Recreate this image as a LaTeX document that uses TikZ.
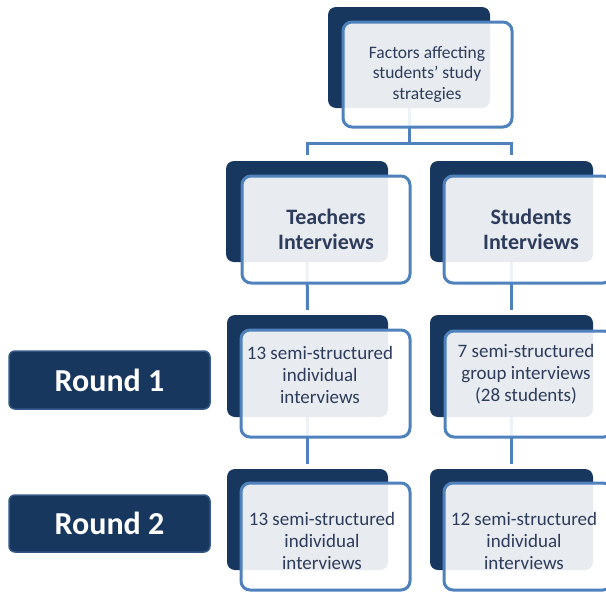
\documentclass[tikz,border=0pt]{standalone}
\usepackage{fontspec}
\setmainfont{Carlito}
\definecolor{navy}{RGB}{23,55,94}
\definecolor{accent}{RGB}{79,129,189}
\definecolor{txt}{RGB}{45,60,92}
\definecolor{roundborder}{RGB}{52,88,135}
\begin{document}
\begin{tikzpicture}[x=1pt,y=-1pt,
  darkbox/.style={fill=navy, draw=none, rounded corners=8pt, inner sep=0pt},
  lightbox/.style={fill=white, fill opacity=0.9, draw=accent, draw opacity=1, line width=3pt, rounded corners=9pt, inner sep=0pt},
  conn/.style={draw=accent, line width=3pt},
  toptext/.style={text=txt, align=center, font=\fontsize{17.5}{20.5}\selectfont},
  headtext/.style={text=txt, align=center, font=\fontsize{22}{25}\selectfont\bfseries},
  bodytext/.style={text=txt, align=center, font=\fontsize{19}{22}\selectfont},
  roundbox/.style={fill=navy, draw=roundborder, line width=1.5pt, rounded corners=6pt, text=white, font=\fontsize{32}{36}\selectfont\bfseries, inner sep=0pt}
]
\useasboundingbox (0,0) rectangle (606,592);
\clip (0,0) rectangle (606,592);

% dark boxes
\node[darkbox, minimum width=162pt, minimum height=101pt] (d1) at (409,57.5) {};
\node[darkbox, minimum width=162pt, minimum height=101pt] (dT2) at (307,211.5) {};
\node[darkbox, minimum width=163pt, minimum height=101pt] (dS2) at (511.5,211.5) {};
\node[darkbox, minimum width=161pt, minimum height=102pt] (dT3) at (307.5,366) {};
\node[darkbox, minimum width=163pt, minimum height=102pt] (dS3) at (511.5,366) {};
\node[darkbox, minimum width=161pt, minimum height=101pt] (dT4) at (307.5,519.5) {};
\node[darkbox, minimum width=163pt, minimum height=101pt] (dS4) at (511.5,519.5) {};

% connectors
\draw[conn] (d1.south) -- ++(0,35.5) coordinate (j1);
\draw[conn] (j1) -| ([yshift=6pt]dT2.north);
\draw[conn] (j1) -| ([yshift=6pt]dS2.north);
\draw[conn] (dT2.south) -- ([yshift=5pt]dT3.north);
\draw[conn] (dS2.south) -- ([yshift=5pt]dS3.north);
\draw[conn] (dT3.south) -- ([yshift=5pt]dT4.north);
\draw[conn] (dS3.south) -- ([yshift=5pt]dS4.north);

% light boxes
\node[lightbox, minimum width=169pt, minimum height=105pt] (l1) at (427.5,74.5) {};
\node[lightbox, minimum width=168pt, minimum height=107pt] (lT2) at (326,229.5) {};
\node[lightbox, minimum width=168pt, minimum height=107pt] (lS2) at (528,229.5) {};
\node[lightbox, minimum width=169pt, minimum height=107pt] (lT3) at (325.5,383.5) {};
\node[lightbox, minimum width=168pt, minimum height=106pt] (lS3) at (529,384) {};
\node[lightbox, minimum width=169pt, minimum height=107pt] (lT4) at (325.5,536.5) {};
\node[lightbox, minimum width=168pt, minimum height=107pt] (lS4) at (528,536.5) {};

% texts
\node[toptext] (t1) at (427,74) {Factors affecting\\students' study\\strategies};
\node[headtext] (tT2) at (326,229) {Teachers\\Interviews};
\node[headtext] (tS2) at (531,229) {Students\\Interviews};
\node[bodytext] (tT3) at (320,374.5) {13 semi-structured\\individual\\interviews};
\node[bodytext] (tS3) at (526,374.5) {7 semi-structured\\group interviews\\(28 students)};
\node[bodytext] (tT4) at (322,540.5) {13 semi-structured\\individual\\interviews};
\node[bodytext] (tS4) at (524,540.5) {12 semi-structured\\individual\\interviews};

% round labels
\node[roundbox, minimum width=201pt, minimum height=58pt] (r1) at (109.5,380) {Round 1};
\node[roundbox, minimum width=201pt, minimum height=57pt] (r2) at (109.5,523.5) {Round 2};
\end{tikzpicture}
\end{document}
